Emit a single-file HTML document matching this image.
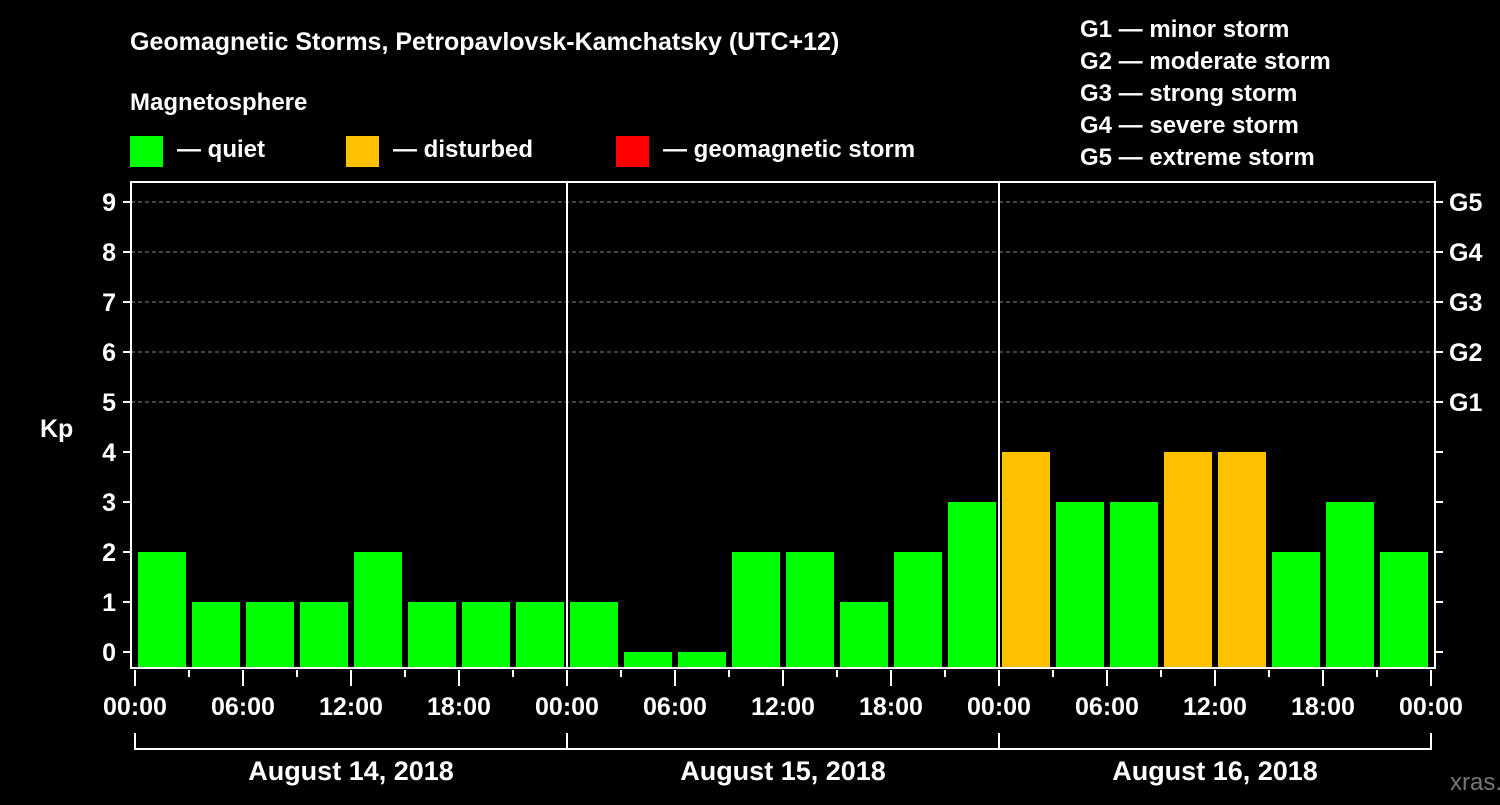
<!DOCTYPE html>
<html><head><meta charset="utf-8"><style>
body{margin:0;background:#000;width:1500px;height:800px;overflow:hidden}
svg text{font-family:"Liberation Sans",Arial,sans-serif;font-weight:bold;fill:#fff}
</style></head><body>
<svg id="c" width="1500" height="800">
<text x="130" y="50" font-size="25">Geomagnetic Storms, Petropavlovsk-Kamchatsky (UTC+12)</text>
<text x="130" y="110" font-size="24">Magnetosphere</text>
<g><rect x="130" y="136" width="33" height="31" fill="#00ff00"/><text x="177" y="157" font-size="24">— quiet</text></g>
<g><rect x="346" y="136" width="33" height="31" fill="#ffc000"/><text x="393" y="157" font-size="24">— disturbed</text></g>
<g><rect x="616" y="136" width="33" height="31" fill="#ff0000"/><text x="663" y="157" font-size="24">— geomagnetic storm</text></g>
<g font-size="24">
<text x="1080" y="37">G1 — minor storm</text><text x="1080" y="69">G2 — moderate storm</text><text x="1080" y="101">G3 — strong storm</text><text x="1080" y="133">G4 — severe storm</text><text x="1080" y="165">G5 — extreme storm</text></g>
<text x="40" y="437" font-size="25">Kp</text>
<text x="1450" y="790" font-size="24" fill="#666" style="fill:#777;font-weight:normal">xras.ru</text>
<g id="plot"></g>
</svg>
<script>
const kpValues=[2,1,1,1,2,1,1,1, 1,0,0,2,2,1,2,3, 4,3,3,4,4,2,3,2];
const dayLabels=["August 14, 2018","August 15, 2018","August 16, 2018"];
const hourLabels=["00:00","06:00","12:00","18:00"];
const gLabels=["G1","G2","G3","G4","G5"];
const NS="http://www.w3.org/2000/svg";
const g=document.getElementById('plot');
const L=131,R=1435,T=182,B=668,X0=135,PXH=18;
const x=h=>X0+h*PXH, y=v=>652-v*50;
function mk(t,a,p){const e=document.createElementNS(NS,t);for(const k in a)e.setAttribute(k,a[k]);(p||g).appendChild(e);return e;}
for(let v=5;v<=9;v++){const l=mk('line',{x1:L,x2:R,y1:y(v),y2:y(v),stroke:'#888','stroke-dasharray':'4,3','stroke-width':1});

}
kpValues.forEach((v,i)=>{const top=y(v);const r=mk('rect',{x:x(i*3)+3,y:top,width:48,height:B-top,fill:v>=5?'#ff0000':v>=4?'#ffc000':'#00ff00'});

});
mk('rect',{x:L,y:T,width:R-L,height:B-T,fill:'none',stroke:'#fff','stroke-width':2});
for(let d=1;d<3;d++){mk('line',{x1:x(d*24),x2:x(d*24),y1:T,y2:B,stroke:'#fff','stroke-width':2});}
for(let v=0;v<=9;v++){mk('line',{x1:L-8,x2:L,y1:y(v),y2:y(v),stroke:'#fff','stroke-width':2});
mk('line',{x1:R,x2:R+8,y1:y(v),y2:y(v),stroke:'#fff','stroke-width':2});
const t=mk('text',{x:116,y:y(v)+9,'font-size':25,'text-anchor':'end'});t.textContent=v;

}
gLabels.forEach((s,i)=>{const t=mk('text',{x:1449,y:y(i+5)+9,'font-size':25});t.textContent=s;

});
for(let h=0;h<=72;h+=3){const maj=h%6==0;mk('line',{x1:x(h),x2:x(h),y1:B+2,y2:maj?B+18:B+9,stroke:'#fff','stroke-width':2});
if(maj){const t=mk('text',{x:x(h),y:715,'font-size':25,'text-anchor':'middle'});t.textContent=hourLabels[(h/6)%4];

}}
mk('polyline',{points:`${x(0)},733 ${x(0)},749 ${x(72)},749 ${x(72)},733`,fill:'none',stroke:'#fff','stroke-width':2});
for(let d=1;d<3;d++)mk('line',{x1:x(d*24),x2:x(d*24),y1:733,y2:749,stroke:'#fff','stroke-width':2});
dayLabels.forEach((s,d)=>{const t=mk('text',{x:x(d*24+12),y:780,'font-size':27,'text-anchor':'middle'});t.textContent=s;

});
</script>
</body></html>
